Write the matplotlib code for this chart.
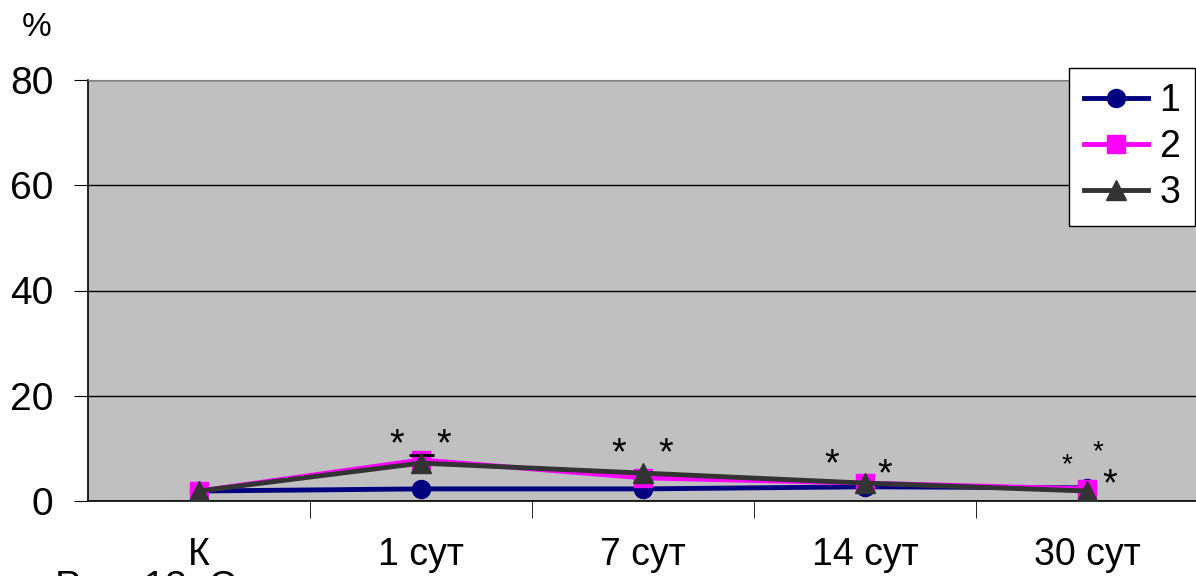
import numpy as np
import matplotlib.pyplot as plt

plt.rcParams['font.family'] = ['Liberation Sans', 'DejaVu Sans']

categories = ['К', '1 сут', '7 сут', '14 сут', '30 сут']
s1 = [1.9, 2.3, 2.3, 2.7, 2.5]
s2 = [1.9, 7.8, 4.4, 3.4, 2.3]
s3 = [1.9, 7.2, 5.3, 3.4, 1.9]
err_idx = 1
err_val = 1.6

# asterisks: (category index, x offset, y value, size)
stars = [(1, -0.11, 10.6, 27), (1, 0.10, 10.6, 27),
         (2, -0.11, 8.8, 27), (2, 0.10, 8.8, 27),
         (3, -0.15, 6.8, 27), (3, 0.09, 4.9, 27),
         (4, -0.09, 6.8, 20), (4, 0.05, 9.2, 20), (4, 0.10, 3.0, 27)]

x = np.arange(len(categories))

fig = plt.figure(figsize=(11.96, 5.76), dpi=100)
ax = fig.add_axes([88/1196, 75/576, 1110/1196, 421/576])
ax.set_facecolor('#c0c0c0')

ax.plot(x, s1, color='#000080', lw=3.5, marker='o', ms=13, label='1', zorder=3)
ax.plot(x, s2, color='#ff00ff', lw=3.5, marker='s', ms=13, label='2', zorder=4)
ax.errorbar(x[err_idx], s3[err_idx], yerr=[[0], [err_val]], fmt='none',
            ecolor='black', capsize=9, elinewidth=1.5, capthick=2, zorder=4.5)
ax.plot(x, s3, color='#333333', lw=3.5, marker='^', ms=14, label='3', zorder=5)

for i, dx, yv, sz in stars:
    ax.text(x[i] + dx, yv, '*', fontsize=sz, ha='center', va='center', zorder=6)

ax.set_xlim(-0.5, 4.5)
ax.set_ylim(0, 80)
ax.set_yticks([0, 20, 40, 60, 80])
ax.grid(axis='y', color='black', lw=1)
ax.set_axisbelow(True)
ax.tick_params(axis='y', labelsize=28, length=10, direction='out', pad=15)

ax.set_xticks(x)
ax.set_xticklabels(categories)
ax.set_xticks(x[:-1] + 0.5, minor=True)
ax.tick_params(axis='x', which='major', length=0, labelsize=27, pad=26)
ax.tick_params(axis='x', which='minor', length=12, direction='out')

ax.spines['right'].set_visible(False)
ax.spines['top'].set_color('#808080')
ax.spines['left'].set_linewidth(1.2)
ax.spines['bottom'].set_linewidth(1.2)

fig.text(37/1196, 1 - 27/576, '%', fontsize=24, ha='center', va='center')
fig.text(55/1196, 1 - 570/576, 'Рис. 13. С', fontsize=28, ha='left', va='top')

leg = ax.legend(loc='upper right', fontsize=27, frameon=True, fancybox=False,
                edgecolor='black', framealpha=1, handlelength=1.7,
                borderpad=0.4, labelspacing=0.27, handletextpad=0.3,
                borderaxespad=0)
leg.get_frame().set_facecolor('white')
leg.get_frame().set_linewidth(1)
leg.set_bbox_to_anchor((1195/1196, 1 - 68/576), transform=fig.transFigure)

fig.savefig('out.png', dpi=100)
